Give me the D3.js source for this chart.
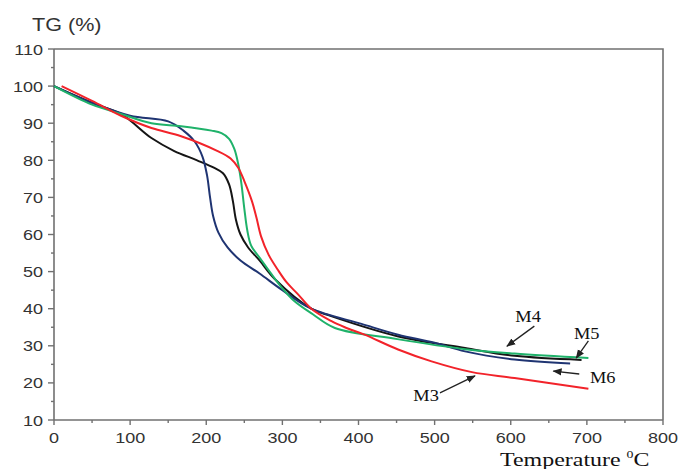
<!DOCTYPE html>
<html>
<head>
<meta charset="utf-8">
<script src="https://cdn.jsdelivr.net/npm/d3@7"></script>
<style>
  body { margin: 0; background: #fff; }
  .tick-label { font-family: "Liberation Sans", Arial, sans-serif; font-size: 15px; fill: #333; }
  .serif { font-family: "Liberation Serif", "Times New Roman", serif; fill: #111; }
</style>
</head>
<body>
<svg id="chart" width="678" height="469"></svg>
<script>
// TG curves, [temperature, mass %]
let m3 = [[10,100],[50,96],[88,92],[128,88.7],[167,86.5],[215,82.5],[232,80.5],[242,78],[250,74.4],
          [260,69],[266,64.5],[272,59.5],[282,54.5],[294,50.5],[306,47],[320,44],[338,40],[364,36.7],
          [382,35],[408,33],[452,29],[496,25.8],[549,22.9],[605,21.3],[702,18.4]]
let m4 = [[0,100],[50,95],[88,92.5],[128,90],[167,89.2],[207,88],[220,87.3],[230,85.8],[237,83],
          [242,79],[246,74],[250,67],[254,61],[259,57],[271,53.5],[285,49.5],[300,45.5],[316,42],
          [340,38.5],[369,34.8],[451,31.8],[540,29.1],[605,27.9],[702,26.7]]
let m5 = [[0,100],[50,95.5],[88,92.5],[128,86],[158,82.5],[188,80],[210,78],[222,76.5],[230,73.5],
          [235,69],[239,64],[245,60],[255,56.5],[270,53],[290,48],[338,40],[364,38],[451,32.6],
          [540,29.4],[605,27.3],[693,26.2]]
let m6 = [[0,100],[50,95.5],[100,92],[150,90.5],[170,88],[185,85],[195,81],[201,76],[205,70],
          [209,65],[216,60.5],[228,56.5],[245,53],[270,49.5],[300,45],[338,40],[404,35.9],[452,33],
          [500,30.8],[540,28.5],[605,26.3],[678,25.2]]

let series = [
    {name:"M5", values:m5, color:"#151515"},
    {name:"M6", values:m6, color:"#1f3472"},
    {name:"M4", values:m4, color:"#1fb26a"},
    {name:"M3", values:m3, color:"#f2232a"}
]

let xTicks = [0,100,200,300,400,500,600,700,800]
let yTicks = [10,20,30,40,50,60,70,80,90,100,110]

// labels with arrows: text at [t,v], arrow from -> to
let notes = [
    {text:"M4", at:[606,36.4], from:[631,35.3], to:[595,29.9]},
    {text:"M5", at:[683,31.8], from:[702,31.3], to:[686,26.7]},
    {text:"M6", at:[704,20.0], from:[690,22.4], to:[656,23.2]},
    {text:"M3", at:[472,15.1], from:[507,17.3], to:[553,21.9]}
]

let svg = d3.select("#chart")
let xScale = d3.scaleLinear().domain([0,800]).range([54,663])
let yScale = d3.scaleLinear().domain([10,110]).range([420,49])
let stretch = 1.2
let axisColor = "#707070"

svg.append("defs").append("marker")
    .attr("id","head").attr("viewBox","0 0 10 10")
    .attr("refX",9).attr("refY",5)
    .attr("markerWidth",7).attr("markerHeight",7)
    .attr("orient","auto")
    .append("path").attr("d","M0,1 L10,5 L0,9 Z").attr("fill","#222")

// frame
svg.append("path")
    .attr("d",`M${xScale(0)},${yScale(110)} H${xScale(800)} V${yScale(10)}`)
    .attr("fill","none").attr("stroke",axisColor).attr("stroke-width",1.6)

// x axis
let xAxis = svg.append("g").attr("transform",`translate(0,${yScale(10)})`)
xAxis.append("line").attr("x1",xScale(0)).attr("x2",xScale(800))
    .attr("stroke",axisColor).attr("stroke-width",1.6)
d3.range(0,801,50).forEach(function (t){
    xAxis.append("line").attr("x1",xScale(t)).attr("x2",xScale(t))
        .attr("y1",0).attr("y2",t%100==0 ? 5 : 3)
        .attr("stroke",axisColor).attr("stroke-width",1.4)
})
xTicks.forEach(function (t){
    xAxis.append("text").attr("class","tick-label")
        .attr("transform",`translate(${xScale(t)},23) scale(${stretch},1)`)
        .attr("text-anchor","middle").text(t)
})

// y axis
let yAxis = svg.append("g").attr("transform",`translate(${xScale(0)},0)`)
yAxis.append("line").attr("y1",yScale(10)).attr("y2",yScale(110))
    .attr("stroke",axisColor).attr("stroke-width",1.6)
d3.range(10,111,5).forEach(function (v){
    yAxis.append("line").attr("y1",yScale(v)).attr("y2",yScale(v))
        .attr("x1",0).attr("x2",v%10==0 ? -6 : -3)
        .attr("stroke",axisColor).attr("stroke-width",1.4)
})
yTicks.forEach(function (v){
    yAxis.append("text").attr("class","tick-label")
        .attr("transform",`translate(-11,${yScale(v)+5.5}) scale(${stretch},1)`)
        .attr("text-anchor","end").text(v)
})

// curves
let line = d3.line()
    .x(function (d){return xScale(d[0])})
    .y(function (d){return yScale(d[1])})
    .curve(d3.curveCatmullRom.alpha(0.5))

svg.selectAll(".curve")
    .data(series)
    .enter()
    .append("path")
    .attr("class","curve")
    .attr("d",function (d){return line(d.values)})
    .attr("fill","none")
    .attr("stroke",function (d){return d.color})
    .attr("stroke-width",2)

// annotations
notes.forEach(function (n){
    svg.append("line")
        .attr("x1",xScale(n.from[0])).attr("y1",yScale(n.from[1]))
        .attr("x2",xScale(n.to[0])).attr("y2",yScale(n.to[1]))
        .attr("stroke","#222").attr("stroke-width",1.3)
        .attr("marker-end","url(#head)")
    svg.append("text").attr("class","serif")
        .attr("transform",`translate(${xScale(n.at[0])},${yScale(n.at[1])}) scale(1.15,1)`)
        .attr("font-size",16).text(n.text)
})

// titles
svg.append("text")
    .attr("transform",`translate(32,31) scale(${stretch},1)`)
    .attr("font-family","Liberation Sans, Arial, sans-serif")
    .attr("font-size",18).attr("fill","#333")
    .text("TG (%)")

let xt = svg.append("text").attr("class","serif")
    .attr("transform",`translate(500,466) scale(1.26,1)`)
    .attr("font-size",19)
xt.append("tspan").text("Temperature ")
xt.append("tspan").attr("font-size",11).attr("dy",-8).text("0")
xt.append("tspan").attr("dy",8).text("C")
</script>
</body>
</html>
